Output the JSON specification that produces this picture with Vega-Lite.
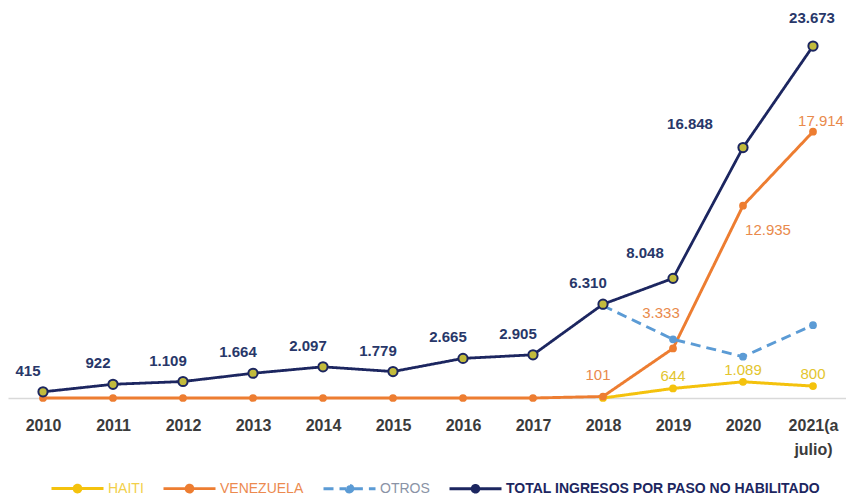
{
  "$schema": "https://vega.github.io/schema/vega-lite/v6.json",
  "width": 840,
  "height": 388,
  "autosize": {"type": "none"},
  "padding": {"left": 8, "top": 10, "right": 0, "bottom": 99},
  "background": "white",
  "config": {
    "view": {"stroke": null},
    "font": "Liberation Sans",
    "locale": {"number": {"decimal": ",", "thousands": ".", "grouping": [3], "currency": ["$", ""]}},
    "legend": {
      "orient": "none",
      "legendX": 42,
      "legendY": 451,
      "direction": "horizontal",
      "title": null,
      "symbolType": "M-1,0L-0.13,0M0.13,0L1,0M0.13,0A0.13,0.13 0 1,1 -0.13,0A0.13,0.13 0 1,1 0.13,0",
      "symbolSize": 2704,
      "labelFont": "Liberation Sans",
      "labelFontSize": 14,
      "labelOffset": 3,
      "columnPadding": 13,
      "labelLimit": 0
    }
  },
  "data": {
    "values": [
      {"serie": "HAITI", "anio": "2018", "valor": 0},
      {"serie": "HAITI", "anio": "2019", "valor": 644},
      {"serie": "HAITI", "anio": "2020", "valor": 1089},
      {"serie": "HAITI", "anio": "2021(a julio)", "valor": 800},
      {"serie": "VENEZUELA", "anio": "2010", "valor": 0},
      {"serie": "VENEZUELA", "anio": "2011", "valor": 0},
      {"serie": "VENEZUELA", "anio": "2012", "valor": 0},
      {"serie": "VENEZUELA", "anio": "2013", "valor": 0},
      {"serie": "VENEZUELA", "anio": "2014", "valor": 0},
      {"serie": "VENEZUELA", "anio": "2015", "valor": 0},
      {"serie": "VENEZUELA", "anio": "2016", "valor": 0},
      {"serie": "VENEZUELA", "anio": "2017", "valor": 0},
      {"serie": "VENEZUELA", "anio": "2018", "valor": 101},
      {"serie": "VENEZUELA", "anio": "2019", "valor": 3333},
      {"serie": "VENEZUELA", "anio": "2020", "valor": 12935},
      {"serie": "VENEZUELA", "anio": "2021(a julio)", "valor": 17914},
      {"serie": "OTROS", "anio": "2018", "valor": 6209},
      {"serie": "OTROS", "anio": "2019", "valor": 3950},
      {"serie": "OTROS", "anio": "2020", "valor": 2780},
      {"serie": "OTROS", "anio": "2021(a julio)", "valor": 4900},
      {"serie": "TOTAL INGRESOS POR PASO NO HABILITADO", "anio": "2010", "valor": 415},
      {"serie": "TOTAL INGRESOS POR PASO NO HABILITADO", "anio": "2011", "valor": 922},
      {"serie": "TOTAL INGRESOS POR PASO NO HABILITADO", "anio": "2012", "valor": 1109},
      {"serie": "TOTAL INGRESOS POR PASO NO HABILITADO", "anio": "2013", "valor": 1664},
      {"serie": "TOTAL INGRESOS POR PASO NO HABILITADO", "anio": "2014", "valor": 2097},
      {"serie": "TOTAL INGRESOS POR PASO NO HABILITADO", "anio": "2015", "valor": 1779},
      {"serie": "TOTAL INGRESOS POR PASO NO HABILITADO", "anio": "2016", "valor": 2665},
      {"serie": "TOTAL INGRESOS POR PASO NO HABILITADO", "anio": "2017", "valor": 2905},
      {"serie": "TOTAL INGRESOS POR PASO NO HABILITADO", "anio": "2018", "valor": 6310},
      {"serie": "TOTAL INGRESOS POR PASO NO HABILITADO", "anio": "2019", "valor": 8048},
      {"serie": "TOTAL INGRESOS POR PASO NO HABILITADO", "anio": "2020", "valor": 16848},
      {"serie": "TOTAL INGRESOS POR PASO NO HABILITADO", "anio": "2021(a julio)", "valor": 23673}
    ]
  },
  "encoding": {
    "x": {
      "field": "anio",
      "type": "ordinal",
      "scale": {"type": "point", "padding": 0.5, "domain": ["2010", "2011", "2012", "2013", "2014", "2015", "2016", "2017", "2018", "2019", "2020", "2021(a julio)"]},
      "axis": {
        "title": null,
        "labelAngle": 0,
        "labelExpr": "datum.value == '2021(a julio)' ? ['2021(a', 'julio)'] : datum.value",
        "labelFont": "Liberation Sans",
        "labelFontSize": 16,
        "labelFontWeight": "bold",
        "labelColor": "#3b3b3b",
        "labelPadding": 19,
        "labelLineHeight": 24,
        "ticks": false,
        "domainColor": "#d9d9d9",
        "domainWidth": 1.5,
        "grid": false
      }
    },
    "y": {"field": "valor", "type": "quantitative", "scale": {"domain": [0, 26100]}, "axis": null}
  },
  "layer": [
    {
      "mark": {"type": "line"},
      "encoding": {
        "color": {
          "field": "serie",
          "type": "nominal",
          "scale": {"domain": ["HAITI", "VENEZUELA", "OTROS", "TOTAL INGRESOS POR PASO NO HABILITADO"], "range": ["#f4c20d", "#ed7d31", "#5b9bd5", "#1c2660"]},
          "legend": {
            "encode": {
              "symbols": {"update": {
                "fill": {"signal": "datum.value === 'TOTAL INGRESOS POR PASO NO HABILITADO' ? '#c2bb3c' : scale('color', datum.value)"},
                "stroke": {"signal": "scale('color', datum.value)"},
                "strokeWidth": {"signal": "datum.value === 'TOTAL INGRESOS POR PASO NO HABILITADO' ? 3.5 : 3"},
                "strokeDash": {"signal": "datum.value === 'OTROS' ? [7, 5] : [1, 0]"},
                "opacity": {"value": 1}
              }},
              "labels": {"update": {
                "fill": {"signal": "datum.value === 'HAITI' ? '#f2cf4a' : datum.value === 'VENEZUELA' ? '#ec8a4f' : datum.value === 'OTROS' ? '#8a93a6' : '#1c2660'"},
                "fontWeight": {"signal": "datum.value === 'TOTAL INGRESOS POR PASO NO HABILITADO' ? 'bold' : 'normal'"}
              }}
            }
          }
        },
        "strokeDash": {
          "field": "serie",
          "type": "nominal",
          "scale": {"domain": ["HAITI", "VENEZUELA", "OTROS", "TOTAL INGRESOS POR PASO NO HABILITADO"], "range": [[1, 0], [1, 0], [10, 6], [1, 0]]},
          "legend": null
        },
        "strokeWidth": {
          "field": "serie",
          "type": "nominal",
          "scale": {"domain": ["HAITI", "VENEZUELA", "OTROS", "TOTAL INGRESOS POR PASO NO HABILITADO"], "range": [3, 2.8, 3.2, 3.8]},
          "legend": null
        }
      }
    },
    {
      "transform": [{"filter": "datum.serie !== 'TOTAL INGRESOS POR PASO NO HABILITADO'"}],
      "mark": {"type": "point", "shape": "circle", "filled": true, "size": 60, "opacity": 1},
      "encoding": {"color": {"field": "serie", "type": "nominal"}}
    },
    {
      "transform": [{"filter": "datum.serie === 'TOTAL INGRESOS POR PASO NO HABILITADO'"}],
      "mark": {"type": "point", "shape": "circle", "filled": true, "size": 85, "fill": "#c2bb3c", "stroke": "#1c2660", "strokeWidth": 2, "opacity": 1}
    },
    {
      "transform": [{"filter": "datum.serie === 'TOTAL INGRESOS POR PASO NO HABILITADO' && indexof(['2019','2020','2021(a julio)'], datum.anio) < 0"}],
      "mark": {"type": "text", "dx": -15, "dy": -21, "fontSize": 15, "fontWeight": "bold", "color": "#283769", "font": "Liberation Sans"},
      "encoding": {"text": {"field": "valor", "type": "quantitative", "format": ","}}
    },
    {
      "transform": [{"filter": "datum.serie === 'TOTAL INGRESOS POR PASO NO HABILITADO' && datum.anio === '2019'"}],
      "mark": {"type": "text", "dx": -28, "dy": -25, "fontSize": 15, "fontWeight": "bold", "color": "#283769", "font": "Liberation Sans"},
      "encoding": {"text": {"field": "valor", "type": "quantitative", "format": ","}}
    },
    {
      "transform": [{"filter": "datum.serie === 'TOTAL INGRESOS POR PASO NO HABILITADO' && datum.anio === '2020'"}],
      "mark": {"type": "text", "dx": -53, "dy": -24, "fontSize": 15, "fontWeight": "bold", "color": "#283769", "font": "Liberation Sans"},
      "encoding": {"text": {"field": "valor", "type": "quantitative", "format": ","}}
    },
    {
      "transform": [{"filter": "datum.serie === 'TOTAL INGRESOS POR PASO NO HABILITADO' && datum.anio === '2021(a julio)'"}],
      "mark": {"type": "text", "dx": -1, "dy": -28, "fontSize": 15, "fontWeight": "bold", "color": "#283769", "font": "Liberation Sans"},
      "encoding": {"text": {"field": "valor", "type": "quantitative", "format": ","}}
    },
    {
      "transform": [{"filter": "datum.serie === 'VENEZUELA' && datum.anio === '2018'"}],
      "mark": {"type": "text", "dx": -5, "dy": -21, "fontSize": 15, "color": "#e98a4c", "font": "Liberation Sans"},
      "encoding": {"text": {"field": "valor", "type": "quantitative", "format": ","}}
    },
    {
      "transform": [{"filter": "datum.serie === 'VENEZUELA' && datum.anio === '2019'"}],
      "mark": {"type": "text", "dx": -12, "dy": -35, "fontSize": 15, "color": "#e98a4c", "font": "Liberation Sans"},
      "encoding": {"text": {"field": "valor", "type": "quantitative", "format": ","}}
    },
    {
      "transform": [{"filter": "datum.serie === 'VENEZUELA' && datum.anio === '2020'"}],
      "mark": {"type": "text", "dx": 25, "dy": 24, "fontSize": 15, "color": "#e98a4c", "font": "Liberation Sans"},
      "encoding": {"text": {"field": "valor", "type": "quantitative", "format": ","}}
    },
    {
      "transform": [{"filter": "datum.serie === 'VENEZUELA' && datum.anio === '2021(a julio)'"}],
      "mark": {"type": "text", "dx": 8, "dy": -11, "fontSize": 15, "color": "#e98a4c", "font": "Liberation Sans"},
      "encoding": {"text": {"field": "valor", "type": "quantitative", "format": ","}}
    },
    {
      "transform": [{"filter": "datum.serie === 'HAITI' && datum.valor > 0"}],
      "mark": {"type": "text", "dx": 0, "dy": -12, "fontSize": 15, "color": "#e3c52e", "font": "Liberation Sans"},
      "encoding": {"text": {"field": "valor", "type": "quantitative", "format": ","}}
    }
  ]
}
